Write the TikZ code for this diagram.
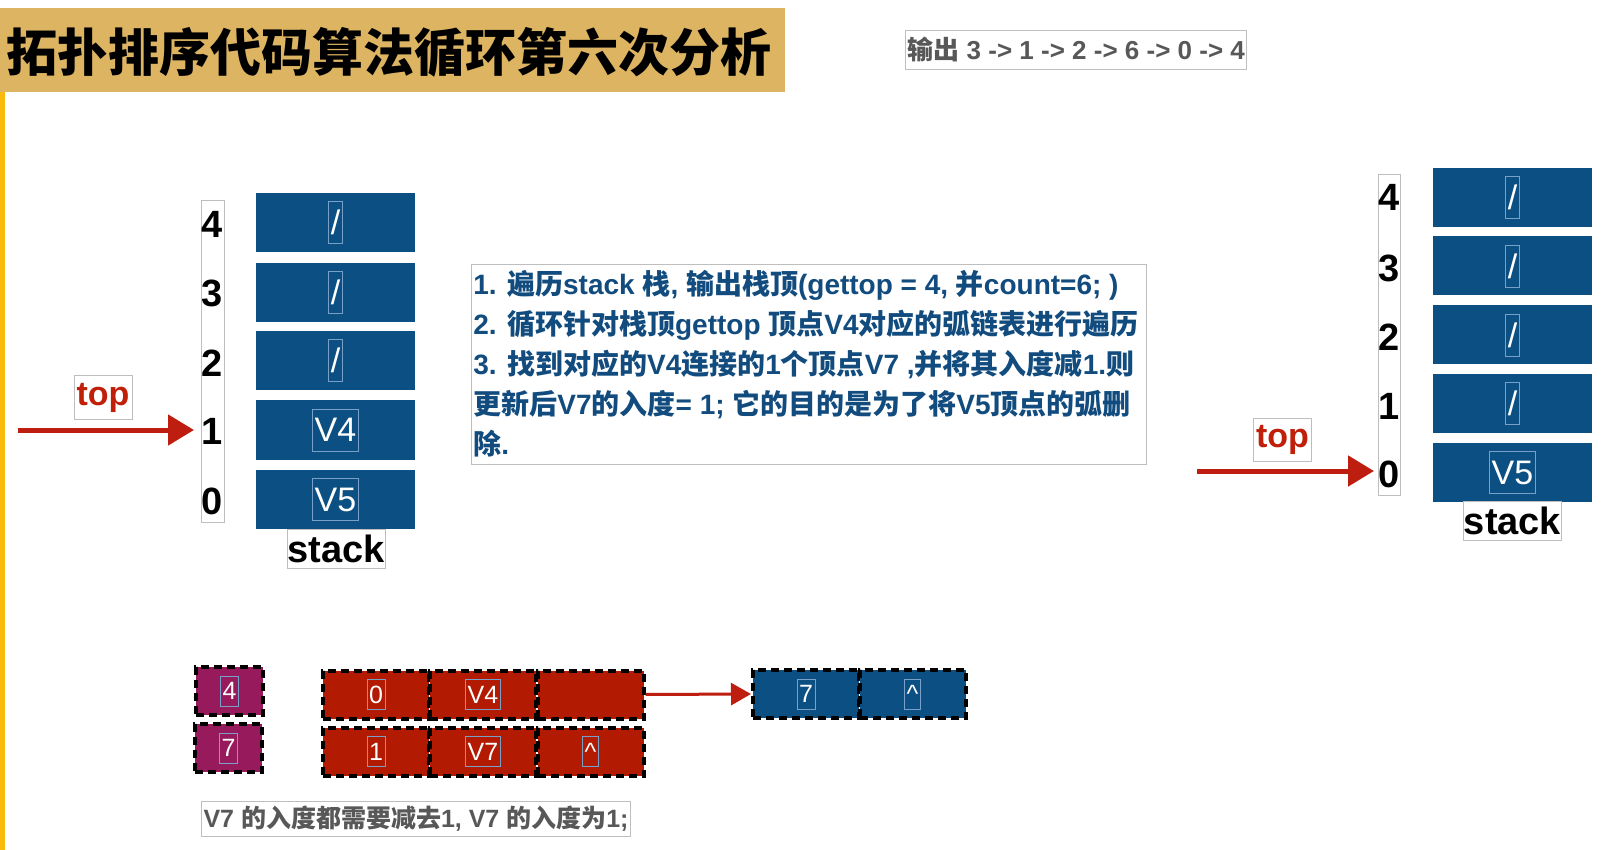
\documentclass[tikz,border=0pt]{standalone}
\usepackage{fontspec}
\setmainfont{Liberation Sans}
\newfontfamily\cjk{Noto Sans CJK SC}
\usetikzlibrary{arrows.meta}
\definecolor{titlebg}{RGB}{221,180,98}
\definecolor{barY}{RGB}{250,186,12}
\definecolor{cellblue}{RGB}{12,79,130}
\definecolor{cellred}{RGB}{178,26,2}
\definecolor{cellpurple}{RGB}{150,26,92}
\definecolor{txtblue}{RGB}{18,76,126}
\definecolor{topred}{RGB}{192,32,10}
\definecolor{arrred}{RGB}{190,30,15}
\definecolor{graytxt}{RGB}{88,88,88}
\definecolor{thinbox}{RGB}{190,190,190}
\definecolor{labbox}{RGB}{120,160,200}
\newcommand\myfs[1]{\fontsize{#1}{#1}\selectfont}
\newcommand\cj[1]{{\cjk #1}}
\begin{document}
\begin{tikzpicture}[x=0.5pt,y=-0.5pt,
 stackcell/.style={fill=cellblue, minimum width=79.5pt, minimum height=29.5pt, inner sep=0pt},
 celllab/.style={draw=labbox, line width=0.4pt, text=white, inner xsep=1pt, inner ysep=0pt, minimum height=21pt, font=\myfs{17}},
 idx/.style={font=\bfseries\myfs{19}, text=black, inner sep=0pt},
 idxbox/.style={draw=thinbox, line width=0.5pt, inner sep=0pt},
 stacklab/.style={draw=thinbox, line width=0.5pt, font=\bfseries\myfs{19}, minimum width=49pt, minimum height=19.5pt, inner sep=0pt},
 toplab/.style={draw=thinbox, line width=0.5pt, text=topred, font=\bfseries\myfs{17}, minimum width=29pt, minimum height=21.5pt, inner sep=0pt},
 toparrow/.style={draw=arrred, line width=2.5pt, -{Triangle[length=13pt,width=15pt]}},
 listcell/.style={draw=black, line width=2pt, dash pattern=on 4pt off 2.5pt, minimum height=24pt, inner sep=0pt},
 redcell/.style={listcell, fill=cellred, minimum width=53pt},
 bluecell/.style={listcell, fill=cellblue, minimum width=53pt},
 purplecell/.style={listcell, fill=cellpurple, minimum width=33.5pt},
 listlab/.style={draw=labbox, line width=0.4pt, text=white, inner xsep=1pt, inner ysep=0pt, minimum height=15pt, font=\myfs{12.5}},
 thinlabel/.style={draw=thinbox, line width=0.5pt},
]
\fill[white] (0,0) rectangle (1602,850);
\useasboundingbox (0,0) rectangle (1602,850);
% left bar
\fill[barY] (0,8) rectangle (5,850);
% title
\node[fill=titlebg, minimum width=392.5pt, minimum height=42pt, anchor=north west, inner sep=0pt] (titlebox) at (0,8) {};
\node[font=\cjk\bfseries\myfs{25.5}, inner sep=0pt, anchor=west] (title) at (6,52) {拓扑排序代码算法循环第六次分析};
% output
\node[thinlabel, anchor=west, inner xsep=1pt, minimum height=17pt, text=graytxt, font=\bfseries\myfs{13}] (out) at (905,50) {\cj{输出} 3 -> 1 -> 2 -> 6 -> 0 -> 4};

% left stack
\node[idxbox, minimum width=11.5pt, minimum height=160.5pt] (lidx) at (212.5,361.5) {};
\node[idx] (li4) at (212,224) {4};
\node[idx] (li3) at (212,293) {3};
\node[idx] (li2) at (212,363) {2};
\node[idx] (li1) at (212,431) {1};
\node[idx] (li0) at (212,501) {0};
\node[stackcell] (ls4) at (335.5,222.5) {};
\node[stackcell] (ls3) at (335.5,292.5) {};
\node[stackcell] (ls2) at (335.5,360.5) {};
\node[stackcell] (ls1) at (335.5,430) {};
\node[stackcell] (ls0) at (335.5,499.5) {};
\node[celllab] (ls4l) at (ls4) {/};
\node[celllab] (ls3l) at (ls3) {/};
\node[celllab] (ls2l) at (ls2) {/};
\node[celllab] (ls1l) at (ls1) {V4};
\node[celllab] (ls0l) at (ls0) {V5};
\node[stacklab] (lstack) at (336,548.5) {stack};
\node[toplab] (ltop) at (103,397.5) {top};
\coordinate (ltail) at (18,430);
\coordinate (lhead) at (194,430);
\draw[toparrow] (ltail) -- (lhead);

% text box
\node[thinlabel, minimum width=337.5pt, minimum height=100pt, anchor=north west, inner sep=0pt] (tbox) at (471,264) {};
\node[anchor=north west, align=left, text=txtblue, font={\bfseries\fontsize{14}{20}\selectfont}, inner xsep=1pt, inner ysep=3pt] (ttext) at (tbox.north west) {1. \cj{遍历}stack \cj{栈}, \cj{输出栈顶}(gettop = 4, \cj{并}count=6; )\\
2. \cj{循环针对栈顶}gettop \cj{顶点}V4\cj{对应的弧链表进行遍历}\\
3. \cj{找到对应的}V4\cj{连接的}1\cj{个顶点}V7 ,\cj{并将其入度减}1.\cj{则}\\
\cj{更新后}V7\cj{的入度}= 1; \cj{它的目的是为了将}V5\cj{顶点的弧删}\\
\cj{除}.};

% right stack
\node[idxbox, minimum width=11pt, minimum height=160pt] (ridx) at (1389,335) {};
\node[idx] (ri4) at (1389,197) {4};
\node[idx] (ri3) at (1389,268) {3};
\node[idx] (ri2) at (1389,337) {2};
\node[idx] (ri1) at (1389,406) {1};
\node[idx] (ri0) at (1389,474) {0};
\node[stackcell] (rs4) at (1512.5,197.5) {};
\node[stackcell] (rs3) at (1512.5,266) {};
\node[stackcell] (rs2) at (1512.5,335) {};
\node[stackcell] (rs1) at (1512.5,403.5) {};
\node[stackcell] (rs0) at (1512.5,472.5) {};
\node[celllab] (rs4l) at (rs4) {/};
\node[celllab] (rs3l) at (rs3) {/};
\node[celllab] (rs2l) at (rs2) {/};
\node[celllab] (rs1l) at (rs1) {/};
\node[celllab] (rs0l) at (rs0) {V5};
\node[stacklab] (rstack) at (1512.5,520.5) {stack};
\node[toplab] (rtop) at (1282.5,439.5) {top};
\coordinate (rtail) at (1197,471);
\coordinate (rhead) at (1374,471);
\draw[toparrow] (rtail) -- (rhead);

% adjacency lists
\node[purplecell] (p4) at (229.5,691) {};
\node[purplecell] (p7) at (228.5,748) {};
\node[listlab] (p4l) at (p4) {4};
\node[listlab] (p7l) at (p7) {7};
\node[redcell] (r11) at (376,694.5) {};
\node[redcell] (r12) at (483,694.5) {};
\node[redcell] (r13) at (590.5,694.5) {};
\node[redcell] (r21) at (376,751.5) {};
\node[redcell] (r22) at (483,751.5) {};
\node[redcell] (r23) at (590.5,751.5) {};
\node[listlab] (r11l) at (r11) {0};
\node[listlab] (r12l) at (r12) {V4};
\node[listlab] (r21l) at (r21) {1};
\node[listlab] (r22l) at (r22) {V7};
\node[listlab] (r23l) at (r23) {\textasciicircum};
\node[bluecell] (b1) at (806,694) {};
\node[bluecell] (b2) at (912.5,694) {};
\node[listlab] (b1l) at (b1) {7};
\node[listlab] (b2l) at (b2) {\textasciicircum};
\draw[arrred, line width=1.5pt, -{Triangle[length=10pt,width=11pt]}] (r13.east) -- (b1.west);

% note
\node[thinlabel, anchor=west, minimum height=17.5pt, inner xsep=1pt, inner ysep=0pt, text=graytxt, font=\bfseries\myfs{12.5}] (note) at (201,818.5) {V7 \cj{的入度都需要减去}1, V7 \cj{的入度为}1;};
\end{tikzpicture}
\end{document}
